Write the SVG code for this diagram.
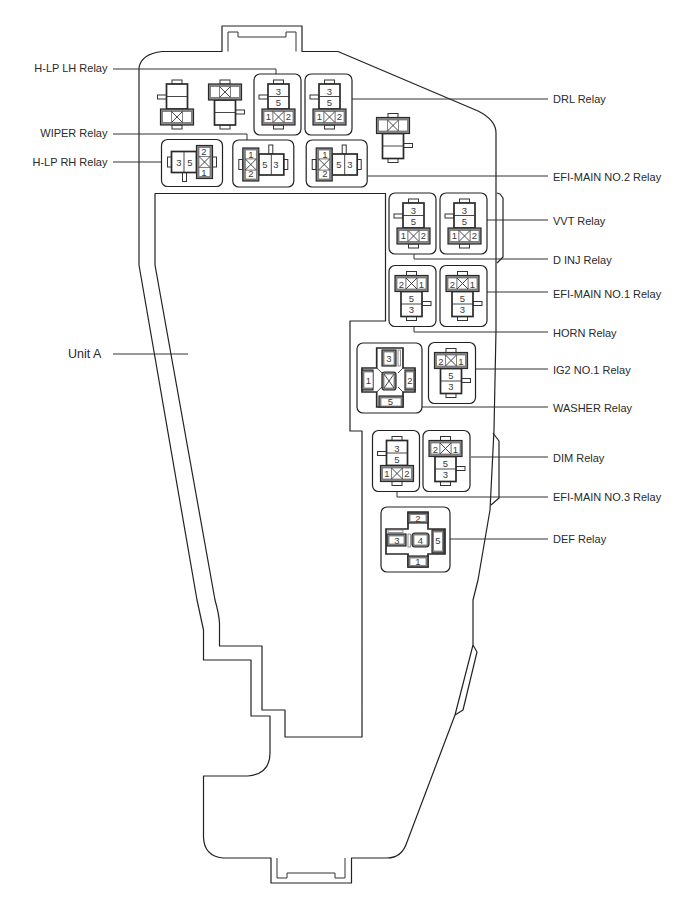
<svg xmlns="http://www.w3.org/2000/svg" xmlns:xlink="http://www.w3.org/1999/xlink" width="698" height="903" viewBox="0 0 698 903">
<style>
text{font-family:"Liberation Sans",Arial,sans-serif;fill:#2a2a2a}
.lb{font-size:11px}
.lbr{font-size:11px;text-anchor:end}
.pin{font-size:9.5px;text-anchor:middle;fill:#3a3a3a}
.ol{fill:none;stroke:#222;stroke-width:1.2;stroke-linejoin:round}
.in{fill:none;stroke:#333;stroke-width:1}
.box{fill:#fff;stroke:#222;stroke-width:1.2}
.ld{fill:none;stroke:#333;stroke-width:1}
.th{fill:#fff;stroke:#333;stroke-width:1}
.bd{fill:#fff;stroke:#2a2a2a;stroke-width:1.7}
.gr{fill:#8a8a8a;stroke:#2a2a2a;stroke-width:1.2}
.ce{fill:#fff;stroke:#666;stroke-width:.7}
.x{fill:none;stroke:#333;stroke-width:.9}
</style>
<defs>
<g id="relay">
<rect class="th" x="-5" y="-24.5" width="10" height="4"/>
<rect class="th" x="-19.5" y="-9.5" width="9" height="4"/>
<rect class="th" x="-5" y="20.5" width="10" height="4"/>
<rect class="bd" x="-10.5" y="-20.5" width="21" height="25"/>
<line class="x" x1="-10.5" y1="-8" x2="10.5" y2="-8"/>
<rect class="gr" x="-16.5" y="4.5" width="33" height="16"/>
<rect class="ce" x="-14.5" y="7" width="9" height="11"/>
<rect class="ce" x="5.5" y="7" width="9" height="11"/>
<rect class="ce" x="-5.5" y="7" width="11" height="11"/>
<path class="x" d="M-5.5 7L5.5 18M5.5 7L-5.5 18"/>
</g>
<rect id="bx" class="box" x="-24.5" y="-30.5" width="47" height="61" rx="6"/>
</defs>

<g id="housing">
<path class="ol" d="M139 180V68Q141 54 162 51.5H222V26H302V51.5H338L478 111Q496 120 496 133V330L494 430L490 510L478 580L473 600V645L455 715L407 842Q402 858 387 858H351.5V883H271V858H223Q204 856 203.5 837V776H248Q270 774 270 753V716H251V660H203.5V630L197 600L139 265Z"/>
<path class="in" d="M228 51.5V32H238V37H286V32H296V51.5"/>
<path class="in" d="M277 858V878H287V873H335V878H345V858"/>
<path class="ol" d="M497 193L500 194L503 198V257L497 263"/>
<path class="ol" d="M493 433L499 441V498L491 505"/>
<path class="ol" d="M473 645L477 652L463 710L455 715"/>
</g>

<g id="unit-a">
<path class="ol" d="M155 193.5H385.5V321H350V431H362V737H285V710H262V646H219.5V623Q219 614 215 600L155 265Z"/>
<text x="68" y="358" style="font-size:12.5px">Unit A</text>
</g>

<g id="connectors">
<path class="ld" d="M113 69H276V74"/>
<path class="ld" d="M113 134H247V140"/>
<path class="ld" d="M113 162H162"/>
<path class="ld" d="M113 354H188"/>
<path class="ld" d="M352 99H548"/>
<path class="ld" d="M368 176H548"/>
<path class="ld" d="M487 220H548"/>
<path class="ld" d="M414 253V259H548"/>
<path class="ld" d="M487 292H548"/>
<path class="ld" d="M414 326V332H548"/>
<path class="ld" d="M476 369H548"/>
<path class="ld" d="M422 407H548"/>
<path class="ld" d="M471 457H548"/>
<path class="ld" d="M397 491V497H548"/>
<path class="ld" d="M450 539H548"/>
</g>

<g id="relay-blank-1"><use href="#relay" transform="translate(177 104.5)"/></g>
<g id="relay-blank-2"><use href="#relay" transform="translate(225 104.5) rotate(180)"/></g>
<g id="relay-blank-3"><use href="#relay" transform="translate(393 138) rotate(180)"/></g>

<g id="hlp-lh"><g transform="translate(278.5 104.5)"><use href="#bx"/><use href="#relay"/></g>
<text class="pin" x="278.5" y="95">3</text><text class="pin" x="278.5" y="106">5</text><text class="pin" x="268.5" y="120">1</text><text class="pin" x="288.5" y="120">2</text></g>
<g id="drl"><g transform="translate(329.5 104.5)"><use href="#bx"/><use href="#relay"/></g>
<text class="pin" x="329.5" y="95">3</text><text class="pin" x="329.5" y="106">5</text><text class="pin" x="319.5" y="120">1</text><text class="pin" x="339.5" y="120">2</text></g>

<g id="hlp-rh"><g transform="translate(192 162) rotate(-90)"><use href="#bx"/><use href="#relay"/></g>
<text class="pin" x="179" y="166">3</text><text class="pin" x="190" y="166">5</text><text class="pin" x="204" y="155">2</text><text class="pin" x="204" y="176">1</text></g>
<g id="wiper"><g transform="translate(263.3 164.5) rotate(90)"><use href="#bx"/><use href="#relay"/></g>
<text class="pin" x="251" y="158">1</text><text class="pin" x="251" y="177">2</text><text class="pin" x="265" y="168">5</text><text class="pin" x="276" y="168">3</text></g>
<g id="efi-main-2"><g transform="translate(336.7 164.5) rotate(90)"><use href="#bx"/><use href="#relay"/></g>
<text class="pin" x="325" y="158">1</text><text class="pin" x="325" y="177">2</text><text class="pin" x="339" y="168">5</text><text class="pin" x="350" y="168">3</text></g>

<g id="d-inj"><g transform="translate(413.5 223.5)"><use href="#bx"/><use href="#relay"/></g>
<text class="pin" x="413.5" y="214">3</text><text class="pin" x="413.5" y="225">5</text><text class="pin" x="403.5" y="239">1</text><text class="pin" x="423.5" y="239">2</text></g>
<g id="vvt"><g transform="translate(464.5 223.5)"><use href="#bx"/><use href="#relay"/></g>
<text class="pin" x="464.5" y="214">3</text><text class="pin" x="464.5" y="225">5</text><text class="pin" x="454.5" y="239">1</text><text class="pin" x="474.5" y="239">2</text></g>

<g id="horn"><g transform="translate(411.5 296) rotate(180)"><use href="#bx"/><use href="#relay"/></g>
<text class="pin" x="401.5" y="287.5">2</text><text class="pin" x="421.5" y="287.5">1</text><text class="pin" x="411.5" y="301.5">5</text><text class="pin" x="411.5" y="312.5">3</text></g>
<g id="efi-main-1"><g transform="translate(462.5 296) rotate(180)"><use href="#bx"/><use href="#relay"/></g>
<text class="pin" x="452.5" y="287.5">2</text><text class="pin" x="472.5" y="287.5">1</text><text class="pin" x="462.5" y="301.5">5</text><text class="pin" x="462.5" y="312.5">3</text></g>

<g id="ig2-no1"><g transform="translate(451 373) rotate(180)"><use href="#bx"/><use href="#relay"/></g>
<text class="pin" x="441" y="364.5">2</text><text class="pin" x="461" y="364.5">1</text><text class="pin" x="451" y="378.5">5</text><text class="pin" x="451" y="389.5">3</text></g>
<g id="dim"><g transform="translate(445.5 461) rotate(180)"><use href="#bx"/><use href="#relay"/></g>
<text class="pin" x="435.5" y="452.5">2</text><text class="pin" x="455.5" y="452.5">1</text><text class="pin" x="445.5" y="466.5">5</text><text class="pin" x="445.5" y="477.5">3</text></g>
<g id="efi-main-3"><g transform="translate(397 461)"><use href="#bx"/><use href="#relay"/></g>
<text class="pin" x="397" y="451.5">3</text><text class="pin" x="397" y="462.5">5</text><text class="pin" x="387" y="476.5">1</text><text class="pin" x="407" y="476.5">2</text></g>

<g id="washer">
<rect class="box" x="357" y="343" width="65" height="70" rx="6"/>
<path class="bd" d="M376.7 348H403V368H415V392H403V407H376.7V392H362V368H376.7Z"/>
<path class="x" d="M376.7 368L382 373M403 368L398 373M376.7 392L382 387M403 392L398 387"/>
<rect class="gr" x="382" y="350" width="14" height="16"/><rect class="ce" x="384" y="352" width="10" height="13"/>
<rect class="ce" x="398" y="350" width="2.5" height="16"/>
<rect class="gr" x="362" y="370" width="11" height="20"/><rect class="ce" x="364" y="372" width="9" height="16"/>
<rect class="gr" x="405" y="370" width="10" height="20"/><rect class="ce" x="406" y="372" width="7.5" height="16"/>
<rect class="gr" x="379" y="396" width="24" height="11"/><rect class="ce" x="381" y="398" width="20" height="8"/>
<rect class="gr" x="382" y="372" width="14" height="18" rx="2.5"/><rect class="ce" x="384" y="374" width="10" height="14"/>
<path class="x" d="M384 374L394 388M394 374L384 388"/>
<text class="pin" x="389" y="362">3</text><text class="pin" x="368.5" y="383.5">1</text><text class="pin" x="410" y="383.5">2</text><text class="pin" x="390.5" y="405">5</text>
</g>

<g id="def">
<rect class="box" x="381" y="507" width="69" height="65" rx="6"/>
<path class="bd" d="M408 512H428V529H445V554H428V567H408V554H386V529H408Z"/>
<rect class="gr" x="408" y="513" width="20" height="10"/><rect class="ce" x="410" y="514.5" width="16" height="7"/>
<rect class="gr" x="408" y="556" width="20" height="11"/><rect class="ce" x="410" y="558" width="16" height="7.5"/>
<rect class="gr" x="387" y="534" width="19" height="12"/><rect class="ce" x="389" y="536" width="15" height="8"/>
<rect class="ce" x="388" y="530" width="15" height="2.5"/>
<rect class="gr" x="432" y="530" width="12" height="23"/><rect class="ce" x="433.5" y="532" width="9" height="19"/>
<rect class="ce" x="408" y="534" width="2.5" height="13"/>
<rect class="gr" x="412" y="533" width="17" height="14" rx="3"/><rect class="ce" x="414" y="535" width="13" height="10"/>
<text class="pin" x="418" y="521.5">2</text><text class="pin" x="418" y="564.5">1</text><text class="pin" x="397" y="543.5">3</text><text class="pin" x="420.5" y="543.5">4</text><text class="pin" x="438" y="544">5</text>
</g>

<g id="labels">
<text class="lbr" x="107.5" y="72">H-LP LH Relay</text>
<text class="lbr" x="107.5" y="137">WIPER Relay</text>
<text class="lbr" x="107.5" y="166">H-LP RH Relay</text>
<text class="lb" x="553" y="103">DRL Relay</text>
<text class="lb" x="553" y="181">EFI-MAIN NO.2 Relay</text>
<text class="lb" x="553" y="225">VVT Relay</text>
<text class="lb" x="553" y="264">D INJ Relay</text>
<text class="lb" x="553" y="298">EFI-MAIN NO.1 Relay</text>
<text class="lb" x="553" y="337">HORN Relay</text>
<text class="lb" x="553" y="374">IG2 NO.1 Relay</text>
<text class="lb" x="553" y="412">WASHER Relay</text>
<text class="lb" x="553" y="462">DIM Relay</text>
<text class="lb" x="553" y="501">EFI-MAIN NO.3 Relay</text>
<text class="lb" x="553" y="543">DEF Relay</text>
</g>
</svg>
